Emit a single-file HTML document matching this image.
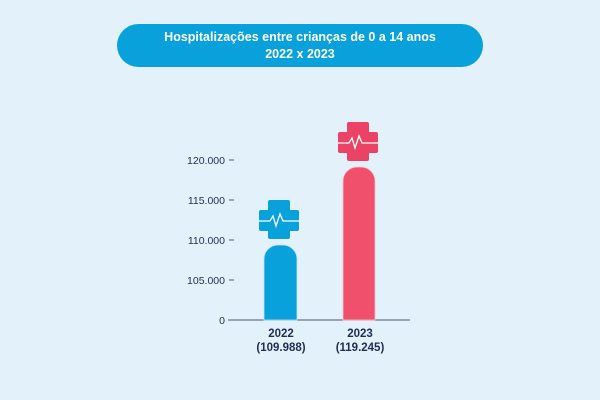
<!DOCTYPE html>
<html><head><meta charset="utf-8"><style>
html,body{margin:0;padding:0;background:#e3f1fb;}
body{width:600px;height:400px;position:relative;overflow:hidden;font-family:"Liberation Sans",sans-serif;}
</style></head><body>
<svg width="600" height="400" xmlns="http://www.w3.org/2000/svg" style="position:absolute;left:0;top:0">
<rect x="0" y="0" width="600" height="400" fill="#e3f1fb"/>
<rect x="117" y="24" width="366" height="43" rx="21.5" fill="#08a1dc"/>
<text x="300" y="41" text-anchor="middle" font-size="12.5" font-weight="bold" fill="#fff" font-family="Liberation Sans, sans-serif">Hospitalizações entre crianças de 0 a 14 anos</text>
<text x="300" y="58" text-anchor="middle" font-size="12.5" font-weight="bold" fill="#fff" font-family="Liberation Sans, sans-serif">2022 x 2023</text>
<g font-size="10.5" fill="#1f2d52" text-anchor="end" font-family="Liberation Sans, sans-serif">
<text x="225" y="164">120.000</text>
<text x="225" y="204">115.000</text>
<text x="225" y="244">110.000</text>
<text x="225" y="284">105.000</text>
<text x="225" y="324">0</text>
</g>
<g stroke="#4a5672" stroke-width="1">
<line x1="229" y1="160" x2="234" y2="160"/>
<line x1="229" y1="200" x2="234" y2="200"/>
<line x1="229" y1="240" x2="234" y2="240"/>
<line x1="229" y1="280" x2="234" y2="280"/>
<line x1="228" y1="320" x2="410" y2="320"/>
</g>
<path d="M264 320 V259 A14 14 0 0 1 278 245 H283 A14 14 0 0 1 297 259 V320 Z" fill="#08a1dc" stroke="#bfe4f5" stroke-width="0.8"/>
<path d="M343 320 V181 A14 14 0 0 1 357 167 H361 A14 14 0 0 1 375 181 V320 Z" fill="#f1506d" stroke="#f9c4ce" stroke-width="0.8"/>
<g fill="#08a1dc">
<rect x="268" y="200" width="22" height="39" rx="2"/>
<rect x="259" y="210" width="40" height="21" rx="2"/>
</g>
<polyline points="259,221 270,221 273,216 276,226 280,214 283,221 299,221" fill="none" stroke="#fff" stroke-width="1.3"/>
<g fill="#ea4366">
<rect x="347" y="122" width="22" height="39" rx="2"/>
<rect x="338" y="132" width="40" height="21" rx="2"/>
</g>
<polyline points="338,143 349,143 352,138 355,148 359,136 362,143 378,143" fill="none" stroke="#fff" stroke-width="1.3"/>
<g font-size="11.5" font-weight="bold" fill="#1f2d52" text-anchor="middle" font-family="Liberation Sans, sans-serif">
<text x="281" y="337">2022</text>
<text x="281" y="351">(109.988)</text>
<text x="360" y="337">2023</text>
<text x="360" y="351">(119.245)</text>
</g>
</svg>
</body></html>
